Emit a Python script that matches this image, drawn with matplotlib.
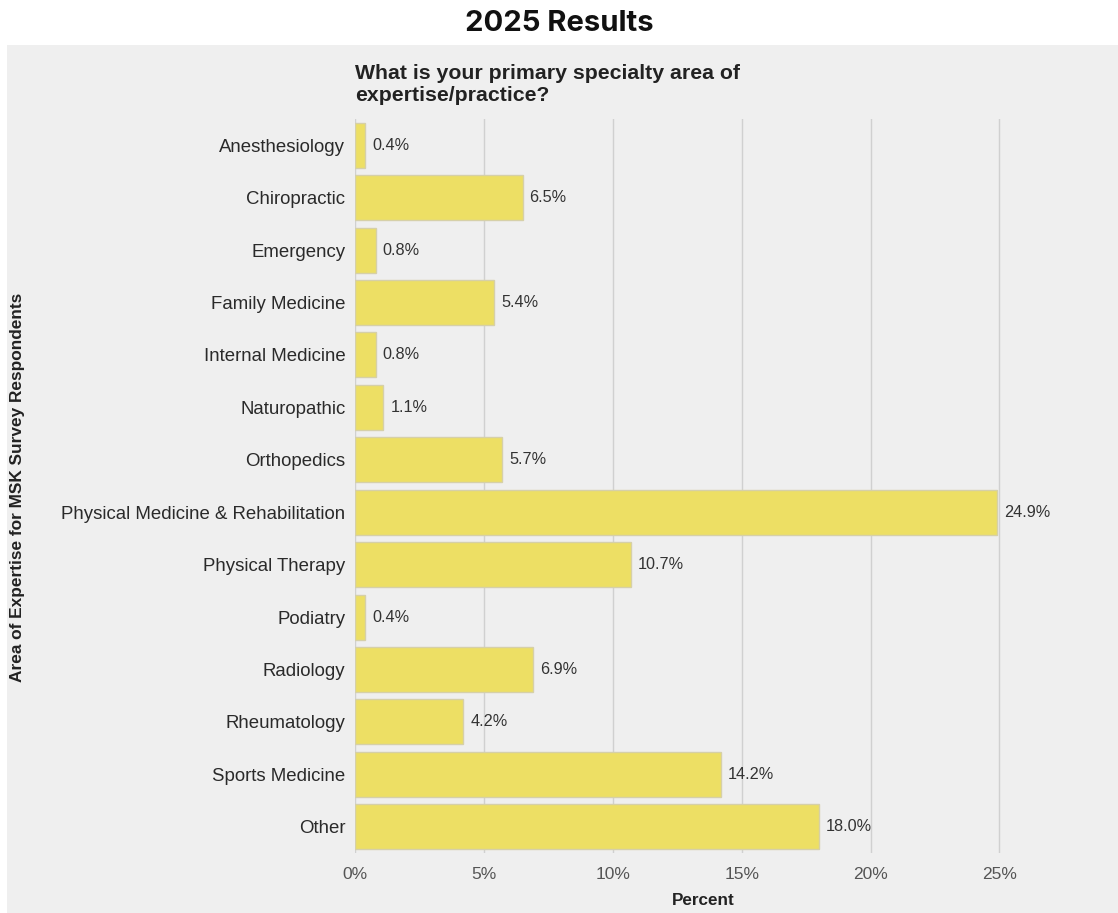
import matplotlib
matplotlib.use("Agg")
import matplotlib.pyplot as plt
from matplotlib.patches import Rectangle

# Survey data: share of respondents by primary specialty
specialties = [
    "Anesthesiology", "Chiropractic", "Emergency", "Family Medicine",
    "Internal Medicine", "Naturopathic", "Orthopedics",
    "Physical Medicine & Rehabilitation", "Physical Therapy", "Podiatry",
    "Radiology", "Rheumatology", "Sports Medicine", "Other",
]
percents = [0.4, 6.5, 0.8, 5.4, 0.8, 1.1, 5.7, 24.9, 10.7, 0.4, 6.9, 4.2, 14.2, 18.0]
x_ticks = [0, 5, 10, 15, 20, 25]
x_tick_labels = ["0%", "5%", "10%", "15%", "20%", "25%"]

W, H, DPI = 1118, 913, 100
plt.rcParams["font.family"] = ["Liberation Sans", "DejaVu Sans"]

fig = plt.figure(figsize=(W / DPI, H / DPI), dpi=DPI, facecolor="white")

# light grey panel behind the chart
fig.patches.append(Rectangle((7 / W, 0), 1 - 7 / W, (H - 45) / H,
                             transform=fig.transFigure, facecolor="#efefef",
                             edgecolor="none", zorder=-10))

fig.text(0.5, 1 - 31 / H, "2025 Results", ha="center", va="baseline",
         fontsize=21, fontweight="bold", family=["Inter", "DejaVu Sans"],
         color="#111111")

ax = fig.add_axes([355 / W, 60 / H, 696 / W, 734 / H])
ax.set_zorder(5)
ax.set_facecolor("none")

y = list(range(len(specialties)))
bars = ax.barh(y, percents, height=0.86, color="#eddf64",
               edgecolor="#d6d0a8", linewidth=1.0, zorder=3)

for yi, v in zip(y, percents):
    ax.annotate(f"{v:.1f}%", (v, yi), xytext=(5, 0), textcoords="offset points",
                ha="left", va="center", fontsize=11.7, color="#333333", zorder=4)

ax.set_ylim(len(specialties) - 0.5, -0.5)
ax.set_xlim(0, 27)
ax.set_yticks(y)
ax.set_yticklabels(specialties, fontsize=13.4, color="#2a2a2a")
ax.set_xticks(x_ticks)
ax.set_xticklabels(x_tick_labels, fontsize=12.5, color="#555555")
ax.tick_params(axis="both", length=0)
ax.tick_params(axis="y", pad=7)
ax.tick_params(axis="x", pad=10)

ax.xaxis.grid(True, color="#d0d0d0", linewidth=1.0, zorder=0)
ax.yaxis.grid(False)
for s in ax.spines.values():
    s.set_visible(False)

ax.set_xlabel("Percent", fontsize=12.3, fontweight="bold", color="#222222",
              labelpad=8)
fig.text(18 / W, 1 - 487 / H, "Area of Expertise for MSK Survey Respondents",
         rotation=90, ha="center", va="center", fontsize=12.4,
         fontweight="bold", color="#222222")

fig.text(355 / W, 1 - 101 / H, "What is your primary specialty area of\nexpertise/practice?",
         ha="left", va="baseline", fontsize=15.3, fontweight="bold",
         color="#222222", linespacing=1.2)

fig.savefig("out.png", dpi=DPI, facecolor="white")
